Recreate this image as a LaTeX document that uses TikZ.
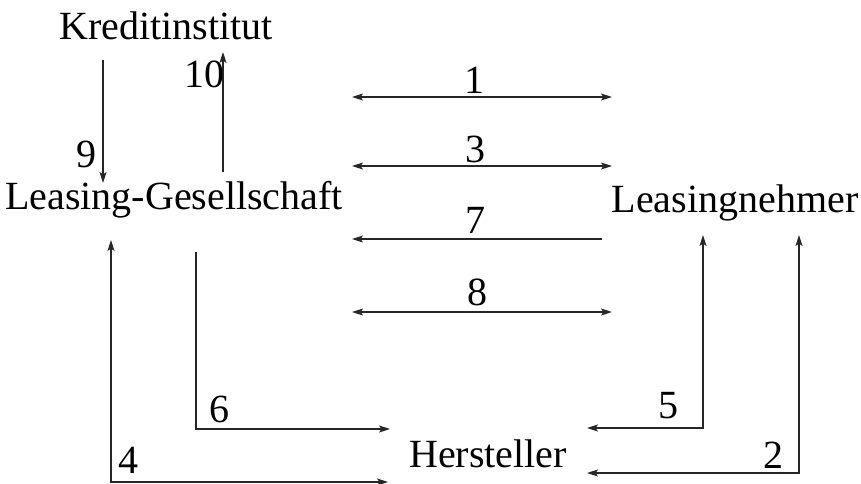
\documentclass[tikz,border=0pt]{standalone}
\usepackage{fontspec}
\setmainfont{Liberation Serif}
\usetikzlibrary{arrows.meta}
\begin{document}
\begin{tikzpicture}[x=1pt,y=-1pt,
  party/.style={anchor=base,inner sep=0pt,font=\fontsize{40}{42}\selectfont},
  num/.style={anchor=base,inner sep=0pt,font=\fontsize{40}{42}\selectfont},
  conn/.style={line width=1.1pt,black!85},
  tip/.style={conn,-{Stealth[length=11pt,width=7pt,inset=2.5pt]}},
  tips/.style={conn,{Stealth[length=11pt,width=7pt,inset=2.5pt]}-{Stealth[length=11pt,width=7pt,inset=2.5pt]}}]
\useasboundingbox (0,0) rectangle (861,483);
% parties
\node[party] (kred) at (166,39) {Kreditinstitut};
\node[party] (lg) at (174,209) {Leasing-Gesellschaft};
\node[party] (ln) at (735,212) {Leasingnehmer};
\node[party] (her) at (488,467) {Hersteller};
% coordinates
\coordinate (k9a) at (103,60);  \coordinate (k9b) at (103,183);
\coordinate (k10a) at (223,172); \coordinate (k10b) at (223,52);
\coordinate (h1a) at (352,97);  \coordinate (h1b) at (612,97);
\coordinate (h3a) at (352,166); \coordinate (h3b) at (612,166);
\coordinate (h7a) at (602,239); \coordinate (h7b) at (352,239);
\coordinate (h8a) at (352,312); \coordinate (h8b) at (612,312);
\coordinate (a4a) at (111,240); \coordinate (a4c) at (111,482); \coordinate (a4b) at (388,482);
\coordinate (a6a) at (196,252); \coordinate (a6c) at (196,429); \coordinate (a6b) at (390,429);
\coordinate (a5a) at (703,235); \coordinate (a5c) at (703,428); \coordinate (a5b) at (587,428);
\coordinate (a2a) at (799,235); \coordinate (a2c) at (799,473); \coordinate (a2b) at (587,473);
% connectors
\draw[tip] (k9a) -- (k9b);
\draw[tip] (k10a) -- (k10b);
\draw[tips] (h1a) -- (h1b);
\draw[tips] (h3a) -- (h3b);
\draw[tip] (h7a) -- (h7b);
\draw[tips] (h8a) -- (h8b);
\draw[tips] (a4a) -- (a4c) -- (a4b);
\draw[tip] (a6a) -- (a6c) -- (a6b);
\draw[tips] (a5a) -- (a5c) -- (a5b);
\draw[tips] (a2a) -- (a2c) -- (a2b);
% labels
\node[num] (n1) at (474,93) {1};
\node[num] (n3) at (475,162) {3};
\node[num] (n7) at (475,233) {7};
\node[num] (n8) at (477,305) {8};
\node[num] (n10) at (204,87) {10};
\node[num] (n9) at (86,167) {9};
\node[num] (n6) at (219,422) {6};
\node[num] (n4) at (128,473) {4};
\node[num] (n5) at (668,418) {5};
\node[num] (n2) at (773,468) {2};
\end{tikzpicture}
\end{document}
